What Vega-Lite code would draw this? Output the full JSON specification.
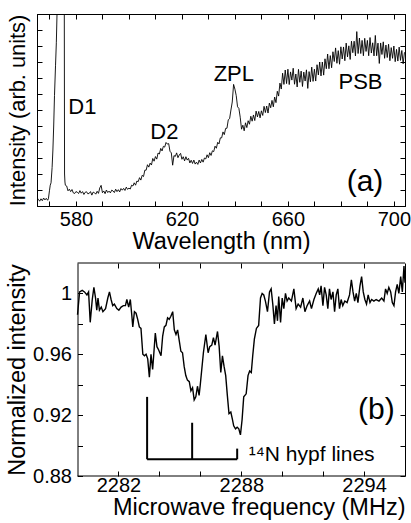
{
  "$schema": "https://vega.github.io/schema/vega-lite/v6.json",
  "padding": {"left": 5, "top": 13, "right": 2, "bottom": 2},
  "spacing": 9,
  "config": {
    "view": {"stroke": "black", "strokeWidth": 1},
    "font": "Liberation Sans",
    "axis": {"grid": false, "domainColor": "black", "tickColor": "black", "labelColor": "black", "titleColor": "black", "titleFontWeight": "normal", "labelFontSize": 20, "titleFontSize": 23.5, "tickSize": -5, "labelFont": "Liberation Sans", "titleFont": "Liberation Sans", "labelOverlap": false, "labelFlush": false},
    "text": {"font": "Liberation Sans", "color": "black"}
  },
  "datasets": {
    "spec_a": [
      {"wl":565.3,"I":0.35},{"wl":565.8,"I":0.42},{"wl":566.3,"I":0.3},{"wl":566.8,"I":0.45},{"wl":567.3,"I":0.33},{"wl":567.8,"I":0.5},{"wl":568.3,"I":0.38},{"wl":568.8,"I":0.48},{"wl":569.3,"I":0.36},{"wl":569.6,"I":0.45},
      {"wl":570.0,"I":0.95},{"wl":570.3,"I":1.3},{"wl":570.6,"I":1.45},{"wl":571.0,"I":2.4},{"wl":571.3,"I":3.5},{"wl":571.6,"I":5.0},{"wl":571.9,"I":6.9},{"wl":572.3,"I":8.8},{"wl":572.6,"I":10.2},{"wl":573.0,"I":13.0},{"wl":573.5,"I":18},{"wl":574.2,"I":20},{"wl":575.0,"I":17},{"wl":575.6,"I":13},{"wl":575.7,"I":2.0},{"wl":575.85,"I":1.5},
      {"wl":576.0,"I":1.3},{"wl":576.5,"I":1.25},{"wl":577.0,"I":0.95},{"wl":577.5,"I":1.05},{"wl":578.0,"I":0.9},{"wl":578.5,"I":1.03},{"wl":579.0,"I":0.82},{"wl":579.5,"I":0.78},
      {"wl":580.0,"I":0.9},{"wl":580.5,"I":0.86},{"wl":581.0,"I":0.78},{"wl":581.5,"I":0.96},{"wl":582.0,"I":0.8},{"wl":582.5,"I":0.9},{"wl":583.0,"I":0.72},{"wl":583.5,"I":0.86},{"wl":584.0,"I":0.89},{"wl":584.5,"I":0.76},
      {"wl":585.0,"I":0.79},{"wl":585.5,"I":0.9},{"wl":586.0,"I":0.68},{"wl":586.5,"I":0.87},{"wl":587.0,"I":0.83},{"wl":587.5,"I":0.74},{"wl":588.0,"I":0.92},{"wl":588.5,"I":0.79},{"wl":589.0,"I":1.13},{"wl":589.5,"I":1.29},
      {"wl":590.0,"I":0.83},{"wl":590.5,"I":0.94},{"wl":591.0,"I":0.77},{"wl":591.5,"I":1.0},{"wl":592.0,"I":0.84},{"wl":592.5,"I":0.93},{"wl":593.0,"I":0.82},{"wl":593.5,"I":0.99},{"wl":594.0,"I":0.94},{"wl":594.5,"I":0.84},
      {"wl":595.0,"I":1.05},{"wl":595.5,"I":0.9},{"wl":596.0,"I":1.02},{"wl":596.5,"I":0.88},{"wl":597.0,"I":1.09},{"wl":597.5,"I":0.99},{"wl":598.0,"I":1.1},{"wl":598.5,"I":0.97},{"wl":599.0,"I":1.18},{"wl":599.5,"I":1.04},
      {"wl":600.0,"I":1.12},{"wl":600.5,"I":1.06},{"wl":601.0,"I":1.3},{"wl":601.5,"I":1.25},{"wl":602.0,"I":1.45},{"wl":602.5,"I":1.3},{"wl":603.0,"I":1.56},{"wl":603.5,"I":1.52},{"wl":604.0,"I":1.77},{"wl":604.5,"I":1.62},
      {"wl":605.0,"I":1.92},{"wl":605.5,"I":1.84},{"wl":606.0,"I":2.24},{"wl":606.5,"I":2.24},{"wl":607.0,"I":2.58},{"wl":607.5,"I":2.43},{"wl":608.0,"I":2.68},{"wl":608.5,"I":2.56},{"wl":609.0,"I":2.97},{"wl":609.5,"I":2.8},
      {"wl":610.0,"I":3.09},{"wl":610.5,"I":2.93},{"wl":611.0,"I":3.31},{"wl":611.5,"I":3.25},{"wl":612.0,"I":3.6},{"wl":612.5,"I":3.44},{"wl":613.0,"I":3.73},{"wl":613.5,"I":3.68},{"wl":614.0,"I":3.97},{"wl":614.5,"I":3.87},
      {"wl":615.0,"I":3.9},{"wl":615.5,"I":3.42},{"wl":616.0,"I":3.32},{"wl":616.5,"I":2.55},{"wl":617.0,"I":3.15},{"wl":617.5,"I":3.1},{"wl":618.0,"I":3.32},{"wl":618.5,"I":3.02},{"wl":619.0,"I":3.19},{"wl":619.5,"I":3.29},
      {"wl":620.0,"I":2.92},{"wl":620.5,"I":3.08},{"wl":621.0,"I":2.82},{"wl":621.5,"I":3.08},{"wl":622.0,"I":2.87},{"wl":622.5,"I":2.98},{"wl":623.0,"I":2.69},{"wl":623.5,"I":2.86},{"wl":624.0,"I":2.66},{"wl":624.5,"I":2.87},
      {"wl":625.0,"I":2.62},{"wl":625.5,"I":2.74},{"wl":626.0,"I":2.6},{"wl":626.5,"I":2.87},{"wl":627.0,"I":2.69},{"wl":627.5,"I":2.91},{"wl":628.0,"I":2.74},{"wl":628.5,"I":3.0},{"wl":629.0,"I":2.94},{"wl":629.5,"I":3.2},
      {"wl":630.0,"I":3.02},{"wl":630.5,"I":3.33},{"wl":631.0,"I":3.16},{"wl":631.5,"I":3.45},{"wl":632.0,"I":3.4},{"wl":632.5,"I":3.74},{"wl":633.0,"I":3.61},{"wl":633.5,"I":3.98},{"wl":634.0,"I":3.88},{"wl":634.5,"I":4.26},
      {"wl":635.0,"I":4.26},{"wl":635.5,"I":4.63},{"wl":636.0,"I":4.46},{"wl":636.5,"I":4.85},{"wl":637.0,"I":4.86},{"wl":637.5,"I":5.39},{"wl":638.0,"I":5.46},{"wl":638.5,"I":6.0},{"wl":639.0,"I":6.5},{"wl":639.5,"I":7.6},
      {"wl":640.0,"I":7.3},{"wl":640.5,"I":6.9},{"wl":641.0,"I":6.2},{"wl":641.5,"I":6.1},{"wl":642.0,"I":5.55},{"wl":642.5,"I":4.8},{"wl":643.0,"I":5.05},{"wl":643.5,"I":4.7},{"wl":644.0,"I":5.2},{"wl":644.5,"I":4.9},
      {"wl":645.0,"I":5.33},{"wl":645.5,"I":5.11},{"wl":646.0,"I":5.61},{"wl":646.5,"I":5.3},{"wl":647.0,"I":5.69},{"wl":647.5,"I":5.34},{"wl":648.0,"I":5.93},{"wl":648.5,"I":5.57},{"wl":649.0,"I":5.91},{"wl":649.5,"I":5.51},
      {"wl":650.0,"I":5.95},{"wl":650.5,"I":5.66},{"wl":651.0,"I":6.23},{"wl":651.5,"I":5.84},{"wl":652.0,"I":6.25},{"wl":652.5,"I":5.81},{"wl":653.0,"I":6.43},{"wl":653.5,"I":6.14},{"wl":654.0,"I":6.6},{"wl":654.5,"I":6.2},
      {"wl":655.0,"I":6.81},{"wl":655.5,"I":6.46},{"wl":656.0,"I":7.17},{"wl":656.5,"I":6.87},{"wl":657.0,"I":7.68},{"wl":657.5,"I":7.31},{"wl":658.0,"I":8.3},{"wl":658.5,"I":7.6},{"wl":659.0,"I":8.5},{"wl":659.5,"I":7.65},
      {"wl":660.0,"I":8.55},{"wl":660.5,"I":7.59},{"wl":661.0,"I":8.38},{"wl":661.5,"I":7.87},{"wl":662.0,"I":8.61},{"wl":662.5,"I":7.61},{"wl":663.0,"I":8.25},{"wl":663.5,"I":7.44},{"wl":664.0,"I":8.54},{"wl":664.5,"I":7.73},
      {"wl":665.0,"I":8.43},{"wl":665.5,"I":7.47},{"wl":666.0,"I":8.37},{"wl":666.5,"I":7.81},{"wl":667.0,"I":8.51},{"wl":667.5,"I":7.35},{"wl":668.0,"I":8.4},{"wl":668.5,"I":7.76},{"wl":669.0,"I":8.68},{"wl":669.5,"I":7.79},
      {"wl":670.0,"I":8.55},{"wl":670.5,"I":7.81},{"wl":671.0,"I":8.83},{"wl":671.5,"I":8.19},{"wl":672.0,"I":9.0},{"wl":672.5,"I":8.13},{"wl":673.0,"I":9.0},{"wl":673.5,"I":8.18},{"wl":674.0,"I":9.2},{"wl":674.5,"I":8.58},
      {"wl":675.0,"I":9.5},{"wl":675.5,"I":8.58},{"wl":676.0,"I":9.4},{"wl":676.5,"I":8.64},{"wl":677.0,"I":9.64},{"wl":677.5,"I":9.03},{"wl":678.0,"I":9.88},{"wl":678.5,"I":8.92},{"wl":679.0,"I":9.71},{"wl":679.5,"I":8.86},
      {"wl":680.0,"I":9.95},{"wl":680.5,"I":9.19},{"wl":681.0,"I":9.94},{"wl":681.5,"I":9.08},{"wl":682.0,"I":10.18},{"wl":682.5,"I":9.32},{"wl":683.0,"I":10.01},{"wl":683.5,"I":9.16},{"wl":684.0,"I":10.3},{"wl":684.5,"I":9.58},
      {"wl":685.0,"I":10.3},{"wl":685.5,"I":9.38},{"wl":686.0,"I":10.9},{"wl":686.5,"I":9.53},{"wl":687.0,"I":10.5},{"wl":687.5,"I":9.53},{"wl":688.0,"I":10.35},{"wl":688.5,"I":9.39},{"wl":689.0,"I":10.48},{"wl":689.5,"I":9.66},
      {"wl":690.0,"I":10.35},{"wl":690.5,"I":9.39},{"wl":691.0,"I":10.53},{"wl":691.5,"I":9.56},{"wl":692.0,"I":10.2},{"wl":692.5,"I":9.38},{"wl":693.0,"I":10.66},{"wl":693.5,"I":9.39},{"wl":694.0,"I":10.18},{"wl":694.5,"I":8.91},
      {"wl":695.0,"I":10.19},{"wl":695.5,"I":9.47},{"wl":696.0,"I":10.26},{"wl":696.5,"I":9.23},{"wl":697.0,"I":10.06},{"wl":697.5,"I":9.28},{"wl":698.0,"I":10.11},{"wl":698.5,"I":9.08},{"wl":699.0,"I":9.9},{"wl":699.5,"I":9.23},
      {"wl":700.0,"I":10.0},{"wl":700.5,"I":9.02},{"wl":701.0,"I":9.79},{"wl":701.5,"I":9.06},{"wl":702.0,"I":9.93},{"wl":702.5,"I":9.1},{"wl":703.0,"I":9.72},{"wl":703.5,"I":8.89},{"wl":704.0,"I":9.61}
    ],
    "labels_a": [
      {"wl":582.4,"I":6.2,"t":"D1"},
      {"wl":613.4,"I":4.6,"t":"D2"},
      {"wl":639.6,"I":8.25,"t":"ZPL"},
      {"wl":687.4,"I":7.73,"t":"PSB"}
    ],
    "panel_a": [{"wl":689.1,"I":1.53,"t":"(a)"}],
    "odmr": [
      {"f":2280.0,"v":0.986},{"f":2280.1,"v":1.001},{"f":2280.23,"v":1.002},{"f":2280.34,"v":1.001},{"f":2280.46,"v":0.999},{"f":2280.54,"v":1.001},{"f":2280.62,"v":0.981},{"f":2280.72,"v":0.996},{"f":2280.8,"v":1.004},{"f":2280.88,"v":0.997},
      {"f":2280.94,"v":0.989},{"f":2281.0,"v":0.997},{"f":2281.07,"v":0.989},{"f":2281.16,"v":0.991},{"f":2281.24,"v":0.988},{"f":2281.37,"v":0.99},{"f":2281.48,"v":0.997},{"f":2281.56,"v":1.001},{"f":2281.64,"v":0.996},{"f":2281.72,"v":0.992},
      {"f":2281.8,"v":0.993},{"f":2281.92,"v":0.99},{"f":2282.02,"v":0.989},{"f":2282.13,"v":0.991},{"f":2282.24,"v":0.992},{"f":2282.34,"v":0.992},{"f":2282.41,"v":0.996},{"f":2282.5,"v":0.991},{"f":2282.58,"v":0.996},{"f":2282.65,"v":0.986},
      {"f":2282.7,"v":0.978},{"f":2282.78,"v":0.988},{"f":2282.86,"v":0.987},{"f":2282.94,"v":0.983},{"f":2283.02,"v":0.978},{"f":2283.1,"v":0.977},{"f":2283.19,"v":0.96},{"f":2283.27,"v":0.959},{"f":2283.35,"v":0.96},{"f":2283.43,"v":0.957},
      {"f":2283.51,"v":0.945},{"f":2283.59,"v":0.96},{"f":2283.67,"v":0.95},{"f":2283.72,"v":0.959},{"f":2283.8,"v":0.974},{"f":2283.88,"v":0.965},{"f":2283.96,"v":0.963},{"f":2284.08,"v":0.959},{"f":2284.16,"v":0.972},{"f":2284.24,"v":0.978},
      {"f":2284.32,"v":0.979},{"f":2284.4,"v":0.984},{"f":2284.48,"v":0.983},{"f":2284.56,"v":0.985},{"f":2284.65,"v":0.988},{"f":2284.73,"v":0.976},{"f":2284.81,"v":0.973},{"f":2284.89,"v":0.976},{"f":2284.97,"v":0.969},{"f":2285.05,"v":0.962},
      {"f":2285.13,"v":0.961},{"f":2285.21,"v":0.952},{"f":2285.29,"v":0.946},{"f":2285.37,"v":0.943},{"f":2285.46,"v":0.942},{"f":2285.54,"v":0.936},{"f":2285.62,"v":0.938},{"f":2285.7,"v":0.93},{"f":2285.78,"v":0.932},{"f":2285.86,"v":0.939},
      {"f":2285.94,"v":0.933},{"f":2285.99,"v":0.939},{"f":2286.07,"v":0.95},{"f":2286.15,"v":0.961},{"f":2286.27,"v":0.973},{"f":2286.38,"v":0.961},{"f":2286.46,"v":0.965},{"f":2286.56,"v":0.966},{"f":2286.64,"v":0.971},{"f":2286.72,"v":0.966},
      {"f":2286.84,"v":0.975},{"f":2286.92,"v":0.965},{"f":2287.0,"v":0.948},{"f":2287.08,"v":0.959},{"f":2287.16,"v":0.952},{"f":2287.24,"v":0.946},{"f":2287.32,"v":0.933},{"f":2287.4,"v":0.921},{"f":2287.49,"v":0.922},{"f":2287.57,"v":0.917},
      {"f":2287.63,"v":0.913},{"f":2287.72,"v":0.911},{"f":2287.8,"v":0.912},{"f":2287.88,"v":0.911},{"f":2287.96,"v":0.907},{"f":2288.04,"v":0.917},{"f":2288.12,"v":0.932},{"f":2288.24,"v":0.934},{"f":2288.33,"v":0.946},{"f":2288.41,"v":0.949},
      {"f":2288.49,"v":0.948},{"f":2288.56,"v":0.959},{"f":2288.64,"v":0.97},{"f":2288.74,"v":0.977},{"f":2288.85,"v":0.979},{"f":2288.94,"v":0.997},{"f":2289.02,"v":1.0},{"f":2289.1,"v":0.999},{"f":2289.18,"v":0.995},{"f":2289.28,"v":0.988},
      {"f":2289.38,"v":1.001},{"f":2289.46,"v":1.003},{"f":2289.54,"v":0.993},{"f":2289.62,"v":0.98},{"f":2289.7,"v":0.992},{"f":2289.77,"v":0.982},{"f":2289.83,"v":0.998},{"f":2289.92,"v":0.981},{"f":2290.0,"v":0.997},{"f":2290.08,"v":0.99},
      {"f":2290.16,"v":1.0},{"f":2290.24,"v":0.995},{"f":2290.32,"v":0.997},{"f":2290.45,"v":0.995},{"f":2290.57,"v":1.003},{"f":2290.68,"v":0.99},{"f":2290.78,"v":0.993},{"f":2290.9,"v":0.991},{"f":2291.01,"v":0.997},{"f":2291.11,"v":0.988},
      {"f":2291.22,"v":0.992},{"f":2291.34,"v":0.995},{"f":2291.43,"v":0.99},{"f":2291.55,"v":0.996},{"f":2291.66,"v":1.0},{"f":2291.76,"v":1.003},{"f":2291.83,"v":0.999},{"f":2291.9,"v":1.005},{"f":2291.99,"v":0.992},{"f":2292.07,"v":1.004},
      {"f":2292.15,"v":0.999},{"f":2292.23,"v":0.99},{"f":2292.31,"v":1.003},{"f":2292.39,"v":0.996},{"f":2292.48,"v":1.001},{"f":2292.56,"v":0.988},{"f":2292.64,"v":0.999},{"f":2292.72,"v":1.003},{"f":2292.8,"v":0.99},{"f":2292.88,"v":0.996},
      {"f":2292.96,"v":0.992},{"f":2293.06,"v":0.995},{"f":2293.17,"v":0.994},{"f":2293.29,"v":0.999},{"f":2293.38,"v":1.009},{"f":2293.46,"v":1.001},{"f":2293.54,"v":0.995},{"f":2293.62,"v":1.0},{"f":2293.7,"v":0.994},{"f":2293.8,"v":1.005},
      {"f":2293.88,"v":1.011},{"f":2293.96,"v":1.001},{"f":2294.04,"v":0.996},{"f":2294.12,"v":0.993},{"f":2294.2,"v":0.999},{"f":2294.29,"v":0.994},{"f":2294.37,"v":0.996},{"f":2294.48,"v":0.995},{"f":2294.59,"v":0.996},{"f":2294.73,"v":0.995},
      {"f":2294.86,"v":0.997},{"f":2294.97,"v":0.995},{"f":2295.05,"v":1.003},{"f":2295.13,"v":1.0},{"f":2295.21,"v":1.004},{"f":2295.3,"v":1.001},{"f":2295.38,"v":0.994},{"f":2295.46,"v":0.992},{"f":2295.54,"v":1.001},{"f":2295.62,"v":1.006},
      {"f":2295.7,"v":1.0},{"f":2295.79,"v":1.011},{"f":2295.87,"v":1.001},{"f":2295.95,"v":1.018},{"f":2296.0,"v":1.007}
    ],
    "sticks": [
      {"f":2283.4,"f2":2283.4,"v":0.891,"v2":0.932},
      {"f":2285.6,"f2":2285.6,"v":0.891,"v2":0.915},
      {"f":2287.8,"f2":2287.8,"v":0.891,"v2":0.898},
      {"f":2283.4,"f2":2287.8,"v":0.891,"v2":0.891}
    ],
    "frame_b": [
      {"f":2280,"f2":2296,"v":0.88},
      {"f":2280,"f2":2296,"v":1.02}
    ],
    "hypf": [{"f":2288.37,"v":0.8935,"t":"¹⁴N hypf lines"}],
    "panel_b": [{"f":2294.6,"v":0.9234,"t":"(b)"}]
  },
  "vconcat": [
    {
      "width": 368,
      "height": 192,
      "resolve": {"axis": {"x": "independent", "y": "independent"}},
      "layer": [
        {
          "data": {"name": "spec_a"},
          "mark": {"type": "line", "color": "black", "strokeWidth": 0.9, "clip": true},
          "encoding": {
            "x": {"field": "wl", "type": "quantitative", "scale": {"domain": [565.3, 704.2], "nice": false, "zero": false},
              "axis": {"orient": "bottom", "values": [570,580,590,600,610,620,630,640,650,660,670,680,690,700], "labelExpr": "indexof([580,620,660,700], datum.value) >= 0 ? datum.label : ''", "labelPadding": 8, "title": "Wavelength (nm)", "titlePadding": 0}},
            "y": {"field": "I", "type": "quantitative", "scale": {"domain": [0, 12], "nice": false, "zero": false},
              "axis": {"orient": "left", "values": [0,1,2,3,4,5,6,7,8,9,10,11,12], "labels": false, "title": "Intensity (arb. units)", "titleFontSize": 21.8, "titlePadding": 7}}
          }
        },
        {
          "data": {"name": "labels_a"},
          "mark": {"type": "text", "fontSize": 22, "color": "black"},
          "encoding": {
            "x": {"field": "wl", "type": "quantitative", "scale": {"domain": [565.3, 704.2], "nice": false, "zero": false},
              "axis": {"orient": "top", "values": [570,580,590,600,610,620,630,640,650,660,670,680,690,700], "labels": false, "title": null}},
            "y": {"field": "I", "type": "quantitative", "scale": {"domain": [0, 12], "nice": false, "zero": false},
              "axis": {"orient": "right", "values": [0,1,2,3,4,5,6,7,8,9,10,11,12], "labels": false, "title": null}},
            "text": {"field": "t"}
          }
        },
        {
          "data": {"name": "panel_a"},
          "mark": {"type": "text", "fontSize": 30, "color": "black"},
          "encoding": {
            "x": {"field": "wl", "type": "quantitative", "scale": {"domain": [565.3, 704.2], "nice": false, "zero": false}, "axis": null},
            "y": {"field": "I", "type": "quantitative", "scale": {"domain": [0, 12], "nice": false, "zero": false}, "axis": null},
            "text": {"field": "t"}
          }
        }
      ]
    },
    {
      "width": 368,
      "height": 213,
      "view": {"stroke": null},
      "resolve": {"axis": {"x": "independent", "y": "independent"}},
      "layer": [
        {
          "data": {"name": "odmr"},
          "mark": {"type": "line", "color": "black", "strokeWidth": 1.4, "clip": true},
          "encoding": {
            "x": {"field": "f", "type": "quantitative", "scale": {"domain": [2278.02, 2296], "nice": false, "zero": false},
              "axis": {"orient": "bottom", "domain": false, "values": [2282,2284,2286,2288,2290,2292,2294], "labelExpr": "indexof([2282,2288,2294], datum.value) >= 0 ? datum.label : ''", "format": "d", "labelPadding": 4, "title": "Microwave frequency (MHz)", "titleAnchor": "end", "titlePadding": 0}},
            "y": {"field": "v", "type": "quantitative", "scale": {"domain": [0.88, 1.02], "nice": false, "zero": false},
              "axis": {"orient": "left", "offset": -40.5, "values": [0.88,0.9,0.92,0.94,0.96,0.98,1.0], "format": ".2~f", "labelExpr": "indexof(['0.88','0.92','0.96','1'], datum.label) >= 0 ? datum.label : ''", "labelPadding": 11, "title": "Normalized intensity", "titlePadding": 3}}
          }
        },
        {
          "data": {"name": "sticks"},
          "mark": {"type": "rule", "color": "black", "strokeWidth": 2},
          "encoding": {
            "x": {"field": "f", "type": "quantitative", "scale": {"domain": [2278.02, 2296], "nice": false, "zero": false},
              "axis": {"orient": "top", "domain": false, "values": [2282,2284,2286,2288,2290,2292,2294], "labels": false, "title": null}},
            "x2": {"field": "f2"},
            "y": {"field": "v", "type": "quantitative", "scale": {"domain": [0.88, 1.02], "nice": false, "zero": false},
              "axis": {"orient": "right", "values": [0.88,0.9,0.92,0.94,0.96,0.98,1.0], "labels": false, "title": null}},
            "y2": {"field": "v2"}
          }
        },
        {
          "data": {"name": "frame_b"},
          "mark": {"type": "rule", "color": "black", "strokeWidth": 1},
          "encoding": {
            "x": {"field": "f", "type": "quantitative", "scale": {"domain": [2278.02, 2296], "nice": false, "zero": false}, "axis": null},
            "x2": {"field": "f2"},
            "y": {"field": "v", "type": "quantitative", "scale": {"domain": [0.88, 1.02], "nice": false, "zero": false}, "axis": null}
          }
        },
        {
          "data": {"name": "hypf"},
          "mark": {"type": "text", "fontSize": 21, "align": "left", "baseline": "middle", "color": "black"},
          "encoding": {
            "x": {"field": "f", "type": "quantitative", "scale": {"domain": [2278.02, 2296], "nice": false, "zero": false}, "axis": null},
            "y": {"field": "v", "type": "quantitative", "scale": {"domain": [0.88, 1.02], "nice": false, "zero": false}, "axis": null},
            "text": {"field": "t"}
          }
        },
        {
          "data": {"name": "panel_b"},
          "mark": {"type": "text", "fontSize": 30, "baseline": "middle", "color": "black"},
          "encoding": {
            "x": {"field": "f", "type": "quantitative", "scale": {"domain": [2278.02, 2296], "nice": false, "zero": false}, "axis": null},
            "y": {"field": "v", "type": "quantitative", "scale": {"domain": [0.88, 1.02], "nice": false, "zero": false}, "axis": null},
            "text": {"field": "t"}
          }
        }
      ]
    }
  ]
}
